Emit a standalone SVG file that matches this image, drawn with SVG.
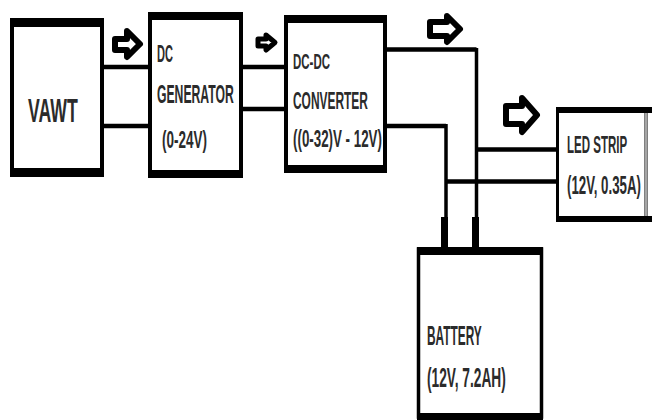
<svg xmlns="http://www.w3.org/2000/svg" width="652" height="420" viewBox="0 0 652 420">
<style>
.box{fill:#fff;stroke:#000;stroke-width:4}
.bar{fill:#000}
.ln{fill:none;stroke:#000;stroke-width:4.5;stroke-linejoin:miter}
.vl{fill:none;stroke:#000;stroke-width:3.5}
.arw{fill:#fff;stroke:#000;stroke-width:6;stroke-linejoin:round}
.t{font-family:"Liberation Sans",Arial,sans-serif;font-weight:bold;fill:#2b2b2b}
</style>
<rect width="652" height="420" fill="#fff"/>
<g id="connectors">
<polyline class="ln" points="104,67 148,67"/>
<polyline class="ln" points="104,126 148,126"/>
<polyline class="ln" points="243,67 284,67"/>
<polyline class="ln" points="243,109 284,109"/>
<polyline class="ln" points="387,49.5 476.5,49.5"/>
<polyline class="vl" points="476.5,48 476.5,217"/>
<polyline class="ln" points="387,126 446,126"/>
<polyline class="vl" points="446,124 446,217"/>
<polyline class="ln" points="476.5,149.5 557,149.5"/>
<polyline class="ln" points="446,181.5 557,181.5"/>
<rect class="bar" x="441" y="217" width="7" height="31"/>
<rect class="bar" x="472" y="217" width="7" height="31"/>
<polygon class="arw" points="115,39 127,39 127,31 140,44 127,57 127,50 115,50"/>
<polygon class="arw" style="stroke-width:5" points="258,39 266,39 266,35 275,42.5 266,50 266,46 258,46"/>
<polygon class="arw" points="430,22 447,22 447,16 460,29 447,42 447,36 430,36"/>
<polygon class="arw" points="506,106 522,106 522,98 537,115 522,132 522,124 506,124"/>
</g>
<g id="vawt">
<rect class="box" x="12" y="20" width="90" height="155"/>
<rect class="bar" x="10" y="18" width="94" height="9"/>
<rect class="bar" x="10" y="168" width="94" height="9"/>
<text class="t" transform="translate(28,122) scale(0.52,1)" font-size="34">VAWT</text>
</g>
<g id="dc-generator">
<rect class="box" x="150" y="14" width="91" height="162"/>
<rect class="bar" x="148" y="12" width="95" height="8"/>
<rect class="bar" x="148" y="170" width="95" height="8"/>
<text class="t" transform="translate(157,62) scale(0.48,1)" font-size="23">DC</text>
<text class="t" transform="translate(157,103) scale(0.488,1)" font-size="25">GENERATOR</text>
<text class="t" transform="translate(162,148) scale(0.5625,1)" font-size="24">(0-24V)</text>
</g>
<g id="dc-dc-converter">
<rect class="box" x="286" y="17" width="99" height="154"/>
<rect class="bar" x="284" y="15" width="103" height="8"/>
<rect class="bar" x="284" y="165" width="103" height="8"/>
<text class="t" transform="translate(293,69) scale(0.522,1)" font-size="22">DC-DC</text>
<text class="t" transform="translate(293,109) scale(0.498,1)" font-size="24">CONVERTER</text>
<text class="t" transform="translate(293,147) scale(0.58,1)" font-size="23">((0-32)V - 12V)</text>
</g>
<g id="led-strip">
<rect x="557.5" y="109" width="88.5" height="110" fill="#fff" stroke="#000" stroke-width="3"/>
<line x1="646" y1="110" x2="646" y2="217" stroke="#ddd" stroke-width="1.5"/>
<rect class="bar" x="556" y="107" width="96" height="6"/>
<rect class="bar" x="556" y="216" width="96" height="6"/>
<text class="t" transform="translate(567,153) scale(0.48,1)" font-size="24">LED STRIP</text>
<text class="t" transform="translate(567,194) scale(0.5,1)" font-size="26.5">(12V, 0.35A)</text>
</g>
<g id="battery">
<rect x="418.5" y="249" width="123" height="168" fill="#fff" stroke="#000" stroke-width="3.5"/>
<rect class="bar" x="417" y="247" width="126" height="8"/>
<rect class="bar" x="417" y="413" width="126" height="7"/>
<text class="t" transform="translate(427,345) scale(0.44,1)" font-size="27">BATTERY</text>
<text class="t" transform="translate(427,387) scale(0.49,1)" font-size="28">(12V, 7.2AH)</text>
</g>
</svg>
